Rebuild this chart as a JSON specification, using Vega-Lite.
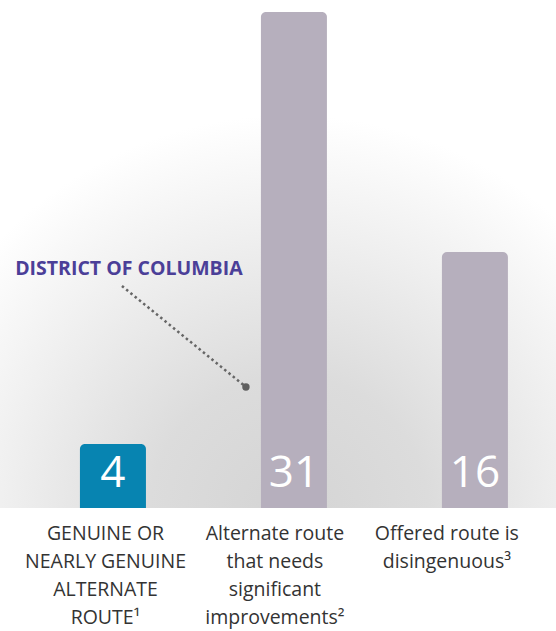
{
  "$schema": "https://vega.github.io/schema/vega-lite/v6.json",
  "width": 556,
  "height": 631,
  "autosize": {"type": "none"},
  "padding": 0,
  "background": "#ffffff",
  "config": {"view": {"stroke": null}, "font": "Open Sans"},
  "datasets": {
    "bars": [
      {"category": "Genuine", "pos": 0, "value": 4, "labelPos": -0.041, "label": "GENUINE OR\nNEARLY GENUINE\nALTERNATE\nROUTE¹"},
      {"category": "Alternate", "pos": 1, "value": 31, "labelPos": 0.895, "label": "Alternate route\nthat needs\nsignificant\nimprovements²"},
      {"category": "Offered", "pos": 2, "value": 16, "labelPos": 1.845, "label": "Offered route is\ndisingenuous³"}
    ],
    "note": [
      {"text": "DISTRICT OF COLUMBIA", "tx": 0.088, "ty": 14.5625, "x1": 0.0497, "y1": 13.875, "x2": 0.7348, "y2": 7.5625}
    ]
  },
  "layer": [
    {
      "data": {"values": [{}]},
      "mark": {
        "type": "rect",
        "fill": {
          "gradient": "radial",
          "x1": 0.52, "y1": 0.97, "r1": 0,
          "x2": 0.52, "y2": 0.97, "r2": 0.72,
          "stops": [
            {"offset": 0, "color": "#d4d4d4"},
            {"offset": 0.35, "color": "#dcdcdc"},
            {"offset": 0.7, "color": "#efefef"},
            {"offset": 1, "color": "#ffffff"}
          ]
        }
      },
      "encoding": {
        "x": {"datum": -0.624, "type": "quantitative", "scale": {"domain": [-0.624, 2.448], "nice": false, "zero": false, "padding": 0}, "axis": null},
        "x2": {"datum": 2.448},
        "y": {"datum": 0, "type": "quantitative", "scale": {"domain": [-7.6875, 31.75], "nice": false, "zero": false, "padding": 0}, "axis": null},
        "y2": {"datum": 31.75}
      }
    },
    {
      "data": {"name": "bars"},
      "mark": {"type": "bar", "width": 66, "cornerRadiusTopLeft": 5, "cornerRadiusTopRight": 5},
      "encoding": {
        "x": {"field": "pos", "type": "quantitative"},
        "y": {"field": "value", "type": "quantitative"},
        "y2": {"datum": 0},
        "color": {
          "field": "category", "type": "nominal", "legend": null,
          "scale": {"domain": ["Genuine", "Alternate", "Offered"], "range": ["#0784b1", "#b6afbd", "#b6afbd"]}
        }
      }
    },
    {
      "data": {"name": "bars"},
      "mark": {"type": "text", "color": "#ffffff", "fontSize": 44, "fontWeight": 400, "baseline": "alphabetic", "align": "center", "dy": -21},
      "encoding": {
        "x": {"field": "pos", "type": "quantitative"},
        "y": {"datum": 0},
        "text": {"field": "value", "type": "quantitative"}
      }
    },
    {
      "data": {"name": "bars"},
      "mark": {"type": "text", "color": "#333333", "fontSize": 19.5, "baseline": "alphabetic", "align": "center", "dy": 32, "lineBreak": "\n", "lineHeight": 28},
      "encoding": {
        "x": {"field": "labelPos", "type": "quantitative"},
        "y": {"datum": 0},
        "text": {"field": "label", "type": "nominal"}
      }
    },
    {
      "data": {"name": "note"},
      "mark": {"type": "rule", "color": "#666666", "strokeWidth": 2.5, "strokeDash": [2.5, 3]},
      "encoding": {
        "x": {"field": "x1", "type": "quantitative"},
        "y": {"field": "y1", "type": "quantitative"},
        "x2": {"field": "x2"},
        "y2": {"field": "y2"}
      }
    },
    {
      "data": {"name": "note"},
      "mark": {"type": "point", "filled": true, "color": "#5f5f5f", "size": 55, "opacity": 1},
      "encoding": {
        "x": {"field": "x2", "type": "quantitative"},
        "y": {"field": "y2", "type": "quantitative"}
      }
    },
    {
      "data": {"name": "note"},
      "mark": {"type": "text", "color": "#4b3f98", "fontSize": 19.5, "fontWeight": "bold", "baseline": "alphabetic", "align": "center"},
      "encoding": {
        "x": {"field": "tx", "type": "quantitative"},
        "y": {"field": "ty", "type": "quantitative"},
        "text": {"field": "text", "type": "nominal"}
      }
    }
  ]
}
